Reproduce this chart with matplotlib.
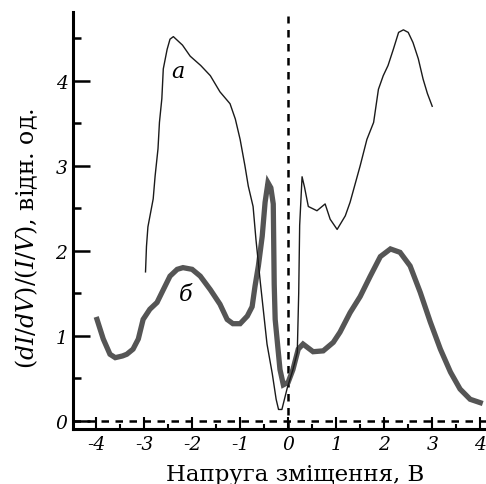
import numpy as np
import matplotlib
matplotlib.use("Agg")
import matplotlib.pyplot as plt
from matplotlib.ticker import MultipleLocator

plt.rcParams['font.family'] = ['DejaVu Serif']
plt.rcParams['mathtext.fontset'] = 'dejavuserif'
plt.rcParams['axes.unicode_minus'] = False

# крива а (тонка)
a_x = [-2.97, -2.95, -2.92, -2.81, -2.77, -2.71, -2.68, -2.63, -2.60, -2.52, -2.46, -2.39,
       -2.20, -2.04, -1.82, -1.62, -1.42, -1.21, -1.10, -1.00, -0.90, -0.83, -0.73, -0.67,
       -0.58, -0.44, -0.33, -0.25, -0.20, -0.13, -0.02, 0.10, 0.19, 0.22, 0.24, 0.29,
       0.34, 0.42, 0.60, 0.77, 0.875, 1.02, 1.19, 1.29, 1.50, 1.64, 1.78, 1.88, 1.98,
       2.08, 2.19, 2.30, 2.40, 2.50, 2.60, 2.71, 2.81, 2.90, 3.00]
a_y = [1.75, 2.05, 2.28, 2.61, 2.88, 3.20, 3.51, 3.79, 4.14, 4.37, 4.49, 4.52,
       4.42, 4.29, 4.18, 4.06, 3.87, 3.73, 3.55, 3.31, 3.00, 2.76, 2.52, 2.13,
       1.63, 0.90, 0.55, 0.25, 0.13, 0.13, 0.38, 0.60, 0.80, 1.50, 2.30, 2.87,
       2.75, 2.52, 2.47, 2.55, 2.37, 2.25, 2.41, 2.57, 3.00, 3.31, 3.51, 3.90, 4.06,
       4.18, 4.37, 4.57, 4.60, 4.57, 4.45, 4.26, 4.02, 3.85, 3.70]

# крива б (товста)
b_x = [-3.98, -3.85, -3.71, -3.60, -3.45, -3.36, -3.23, -3.12, -3.02, -2.88, -2.73, -2.60,
       -2.46, -2.31, -2.19, -2.00, -1.83, -1.62, -1.42, -1.27, -1.15, -1.00, -0.85, -0.75,
       -0.69, -0.62, -0.54, -0.48, -0.42, -0.36, -0.31, -0.29, -0.27, -0.17, -0.10, 0.00,
       0.10, 0.21, 0.31, 0.52, 0.73, 0.94, 1.08, 1.29, 1.50, 1.71, 1.92, 2.13, 2.33,
       2.54, 2.75, 2.96, 3.17, 3.38, 3.58, 3.79, 4.00]
b_y = [1.19, 0.96, 0.78, 0.74, 0.76, 0.78, 0.84, 0.96, 1.19, 1.31, 1.39, 1.54,
       1.70, 1.78, 1.80, 1.78, 1.70, 1.54, 1.37, 1.19, 1.14, 1.14, 1.23, 1.34,
       1.58, 1.82, 2.17, 2.57, 2.80, 2.74, 2.55, 1.60, 1.19, 0.60, 0.42, 0.45,
       0.60, 0.84, 0.90, 0.81, 0.82, 0.92, 1.04, 1.27, 1.46, 1.70, 1.93, 2.02, 1.98,
       1.82, 1.51, 1.16, 0.84, 0.57, 0.37, 0.25, 0.21]

x_ticks = [-4, -3, -2, -1, 0, 1, 2, 3, 4]
y_ticks = [0, 1, 2, 3, 4]

fig = plt.figure(figsize=(4.86, 4.85), dpi=100)
ax = fig.add_axes([73 / 486, 55 / 485, 1 - 73 / 486, 417 / 485])

ax.plot(b_x, b_y, color='#555555', lw=3.8, solid_joinstyle='miter', zorder=3)
ax.plot(a_x, a_y, color='#1a1a1a', lw=1.0, zorder=4)

ax.axhline(0, color='black', lw=1.8, dashes=(3, 2.6), zorder=2)
ax.axvline(0, ymax=(4.76 + 0.1) / 4.91, color='black', lw=1.8, dashes=(3, 2.6), zorder=2)

ax.text(-2.29, 4.12, 'а', fontsize=16, style='italic', ha='center', va='center')
ax.text(-2.13, 1.49, 'б', fontsize=16, style='italic', ha='center', va='center')

ax.set_xlim(-4.48, 4.12)
ax.set_ylim(-0.1, 4.81)
ax.set_xticks(x_ticks)
ax.set_yticks(y_ticks)
ax.xaxis.set_minor_locator(MultipleLocator(0.5))
ax.yaxis.set_minor_locator(MultipleLocator(0.5))

for s in ['top', 'right']:
    ax.spines[s].set_visible(False)
for s in ['left', 'bottom']:
    ax.spines[s].set_linewidth(2.2)

ax.tick_params(axis='x', which='major', direction='in', length=8.5, width=1.5, pad=4)
ax.tick_params(axis='x', which='minor', direction='in', length=3.5, width=1.5)
ax.tick_params(axis='y', which='major', direction='in', length=12, width=1.8, pad=4)
ax.tick_params(axis='y', which='minor', direction='in', length=6, width=1.8)
for lab in ax.get_xticklabels() + ax.get_yticklabels():
    lab.set_fontstyle('italic')
    lab.set_fontsize(13.5)

ax.set_xlabel('Напруга зміщення, В', fontsize=16.5)
ax.xaxis.set_label_coords(0.537, -0.082)
ax.set_ylabel(r'$(dI/dV)/(I/V)$, відн. од.', fontsize=17)
ax.yaxis.set_label_coords(-0.08, 0.46)

fig.savefig('out.png', dpi=100)
